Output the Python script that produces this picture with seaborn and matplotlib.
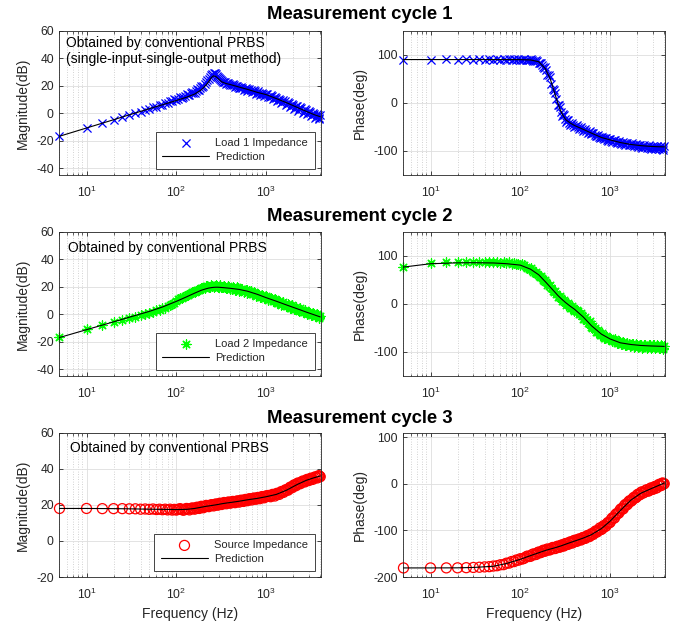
import matplotlib
matplotlib.use("Agg")
import matplotlib.pyplot as plt
from matplotlib.ticker import FixedLocator, LogLocator, NullFormatter
import seaborn as sns

# ---------------------------------------------------------------- data
# measured frequency points (Hz)
freq_meas = [5, 10, 15, 20, 25, 30, 35, 40, 45, 50, 55, 60, 65, 70, 75, 80, 85, 90, 95, 100,
             110, 120, 130, 140, 150, 160, 170, 180, 190, 200,
             215, 230, 245, 260, 275, 290, 305, 320, 340, 360, 380, 400,
             425, 450, 475, 500, 530, 560, 590, 620, 650, 690, 730, 770, 810, 850, 900, 950, 1000,
             1060, 1120, 1180, 1250, 1320, 1400, 1480, 1560, 1650, 1750, 1850, 1950, 2050,
             2150, 2250, 2400, 2550, 2700, 2850, 3000, 3150, 3300, 3500, 3700, 3850, 4000]
# intermediate measured frequency points above 100 Hz (Hz)
freq_meas_mid = [105, 115, 125, 135, 145, 155, 165, 175, 185, 195,
                 207, 222, 237, 252, 267, 282, 297, 312, 330, 350, 370, 390,
                 412, 437, 462, 487, 515, 545, 575, 605, 635, 670, 710, 750, 790, 830, 875, 925, 975,
                 1030, 1090, 1150, 1215, 1285, 1360, 1440, 1520, 1605, 1700, 1800, 1900, 2000, 2100,
                 2200, 2325, 2475, 2625, 2775, 2925, 3075, 3225, 3400, 3600, 3775, 3925]

# model frequency points (Hz)
freq_pred = [5, 10, 20, 30, 50, 70, 100, 130, 160, 190, 215, 230, 245, 260, 275, 290,
             320, 360, 400, 500, 620, 800, 1000, 1300, 1700, 2200, 2800, 3400, 4000]

# cycle 1: load 1 impedance
load1_mag_meas = [-16.6, -10.6, -7.0, -5.0, -2.6, -1.3, 0.4, 1.1, 2.6, 3.0, 4.5, 4.6, 6.1, 6.2, 7.5, 7.6, 8.8, 8.7, 10.0, 9.9,
                  11.4, 11.8, 13.6, 13.3, 15.6, 14.8, 17.6, 16.9, 19.6, 20.1,
                  22.9, 24.6, 27.9, 29.3, 28.6, 26.0, 24.9, 23.2, 22.9, 21.4, 22.0, 20.2,
                  21.0, 19.2, 20.1, 18.3, 19.3, 17.2, 18.4, 16.4, 17.6, 15.4, 16.6, 14.3, 15.8, 13.4, 14.9, 12.7, 14.3,
                  11.5, 13.1, 10.2, 11.9, 8.9, 10.6, 7.4, 9.4, 6.0, 8.2, 4.6, 6.8, 3.2, 5.5, 1.9, 4.2, 0.4, 2.8,
                  -0.8, 1.5, -1.9, 0.3, -3.3, -0.7, -4.2, -1.6]
load1_mag_meas_mid = [10.6, 11.0, 12.6, 12.9, 14.5, 15.0, 16.3, 17.2, 18.5, 19.2,
                      21.4, 23.8, 26.2, 28.6, 29.0, 27.2, 25.3, 24.2, 22.8, 22.5, 21.6, 21.3,
                      20.4, 20.3, 19.4, 19.3, 18.5, 18.6, 17.5, 17.7, 16.8, 16.9, 15.8, 15.8, 14.9, 15.0, 14.0, 14.2, 13.3,
                      13.6, 12.0, 12.5, 10.8, 11.2, 9.4, 9.9, 8.1, 8.8, 6.8, 7.4, 5.3, 6.1, 4.0, 5.0, 2.7, 3.6, 1.1, 2.2,
                      -0.2, 0.9, -1.4, -0.3, -2.6, -1.3, -3.5]
load1_mag_pred = [-16.8, -10.8, -4.8, -1.2, 3.2, 6.1, 9.2, 11.6, 13.9, 17.0, 20.6, 23.0, 25.8, 27.2, 26.7, 25.3,
                  22.8, 21.5, 20.8, 19.0, 17.3, 15.1, 13.5, 10.6, 7.5, 4.3, 1.3, -1.0, -2.6]
load1_phase_meas = [89.7, 89.5, 90.2, 89.6, 90.3, 89.4, 90.4, 89.5, 90.6, 89.3, 90.7, 89.2, 90.8, 89.1, 90.9, 89.0, 91.0, 88.9, 91.1, 88.7,
                    91.0, 88.4, 90.6, 86.5, 89.0, 83.0, 83.5, 73.5, 74.5, 58.5,
                    54.0, 28.0, 20.0, -4.0, -8.0, -27.0, -25.5, -39.0, -36.5, -45.5, -42.5, -50.0,
                    -47.0, -54.0, -51.0, -58.0, -55.0, -62.0, -59.0, -65.5, -63.0, -69.5, -67.0, -73.5, -70.5, -76.0, -73.0, -78.5, -75.0,
                    -80.5, -77.5, -83.0, -79.5, -85.0, -81.5, -87.0, -83.5, -88.5, -84.5, -90.5, -86.0, -92.0,
                    -87.0, -93.5, -88.0, -94.5, -88.5, -95.5, -89.0, -96.0, -89.0, -96.5, -89.5, -97.0, -89.5]
load1_phase_meas_mid = [89.6, 89.8, 89.0, 89.4, 86.8, 87.2, 82.0, 79.5, 72.5, 68.5,
                        58.0, 40.0, 26.0, 7.0, -3.5, -18.5, -24.0, -33.5, -36.0, -41.5, -43.0, -46.8,
                        -47.5, -50.5, -51.5, -54.5, -55.5, -59.0, -60.0, -63.0, -63.5, -67.0, -68.0, -71.0, -71.5, -73.8, -74.0, -76.3, -76.0,
                        -78.5, -78.2, -80.8, -80.5, -83.0, -82.8, -85.2, -84.5, -86.8, -86.0, -88.5, -87.3, -90.0, -88.5,
                        -91.0, -90.0, -92.5, -91.0, -93.5, -91.5, -94.0, -92.0, -94.5, -92.5, -95.0, -93.0]
load1_phase_pred = [90, 90, 90, 90, 90, 90, 89.8, 89.2, 85.5, 71, 50, 33, 16, 1, -12, -22,
                    -35, -42, -47, -55, -63, -72, -77, -82.5, -86.5, -89, -90.5, -91.2, -91.5]

# cycle 2: load 2 impedance
load2_mag_meas = [-16.8, -11.0, -7.6, -5.7, -4.4, -2.9, -2.0, -0.6, -0.1, 1.0, 1.4, 2.7, 2.9, 4.2, 4.5, 5.8, 6.3, 7.7, 8.4, 9.8,
                  11.8, 12.4, 14.0, 14.4, 16.0, 16.3, 17.7, 17.9, 19.1, 18.9,
                  20.3, 19.8, 20.9, 20.1, 21.0, 20.0, 20.9, 19.5, 20.6, 18.9, 20.2, 18.3,
                  19.8, 17.8, 19.4, 17.2, 18.6, 16.4, 17.9, 15.6, 17.0, 14.6, 15.9, 13.5, 14.9, 12.6, 14.0, 11.6, 12.9,
                  10.6, 12.0, 9.6, 11.0, 8.3, 9.6, 7.0, 8.5, 5.9, 7.3, 4.8, 6.3, 3.6, 5.2, 2.7, 4.2, 1.6, 3.1,
                  0.4, 1.9, -0.5, 1.0, -1.6, 0.0, -2.7, -1.0]
load2_mag_meas_mid = [10.9, 11.8, 13.4, 13.9, 15.4, 15.8, 17.0, 17.4, 18.4, 18.8,
                      19.3, 20.2, 20.0, 20.6, 20.3, 20.5, 20.1, 20.0, 19.6, 19.5, 19.0, 19.4,
                      18.3, 19.1, 17.7, 18.7, 17.3, 18.1, 16.7, 17.3, 15.9, 16.5, 14.8, 15.3, 13.6, 14.1, 12.6, 13.0, 11.6,
                      12.2, 10.7, 11.2, 9.6, 10.0, 8.4, 8.7, 7.1, 7.5, 5.9, 6.3, 4.7, 5.1, 3.6, 4.1, 2.6, 3.0, 1.4, 1.9,
                      0.5, 1.0, -0.4, 0.1, -1.5, -0.9, -2.3]
load2_mag_pred = [-17.0, -11.3, -5.6, -2.2, 2.0, 5.2, 9.3, 12.6, 15.3, 17.4, 18.5, 19.0, 19.3, 19.5, 19.6, 19.6,
                  19.4, 19.1, 18.8, 18.0, 16.7, 14.4, 12.0, 9.4, 6.6, 4.0, 1.5, -0.4, -2.0]
load2_phase_meas = [76.0, 84.0, 86.5, 86.0, 87.2, 86.4, 87.5, 86.5, 87.6, 86.0, 87.4, 85.5, 87.0, 84.8, 86.3, 83.8, 85.5, 82.5, 83.0, 80.0,
                    81.0, 74.0, 75.0, 65.5, 67.0, 57.5, 58.5, 49.0, 49.5, 39.0,
                    38.5, 26.0, 26.5, 14.5, 16.5, 5.5, 9.0, -1.5, 2.0, -8.5, -5.0, -15.0,
                    -12.0, -22.0, -19.0, -30.5, -28.0, -40.0, -36.5, -49.0, -46.0, -58.0, -54.5, -65.0, -61.5, -70.0, -66.5, -74.0, -70.5,
                    -78.0, -73.5, -81.5, -76.5, -84.0, -79.0, -86.0, -81.0, -87.5, -82.5, -89.0, -84.0, -90.0,
                    -85.0, -91.0, -85.5, -91.5, -86.0, -92.0, -86.0, -92.5, -86.5, -92.5, -86.5, -93.0, -87.0]
load2_phase_meas_mid = [82.0, 77.5, 71.5, 70.5, 64.0, 62.5, 56.0, 53.5, 46.5, 44.5,
                        36.5, 32.5, 24.5, 21.5, 13.8, 12.0, 6.0, 4.8, -0.8, -2.5, -8.0, -9.0,
                        -14.5, -15.0, -21.5, -23.5, -31.0, -33.0, -40.5, -42.0, -49.5, -50.5, -58.5, -58.5, -65.0, -64.5, -70.0, -69.3, -74.0,
                        -73.3, -78.0, -77.3, -81.3, -80.0, -83.3, -81.8, -85.0, -83.0, -86.3, -84.0, -87.5, -84.8, -88.5,
                        -85.3, -89.3, -85.8, -89.8, -86.3, -90.3, -86.5, -90.5, -86.8, -90.8, -87.0, -91.0]
load2_phase_pred = [76.5, 83.4, 85.2, 85.5, 85.0, 83.5, 80.5, 72.0, 60.5, 46, 35, 29, 23.5, 18, 13.5, 9.5,
                    2.5, -5, -11, -27, -45.5, -63, -73, -81, -84.5, -86.5, -87.5, -88, -88.5]

# cycle 3: source impedance
source_mag_meas = [18.0, 18.0, 17.9, 17.9, 17.9, 17.8, 17.8, 17.6, 17.7, 17.5, 17.7, 17.4, 17.6, 17.3, 17.6, 17.2, 17.6, 17.1, 17.5, 17.1,
                   17.9, 17.0, 18.0, 17.2, 18.3, 17.6, 18.7, 18.0, 19.2, 18.4,
                   19.7, 19.0, 20.1, 19.4, 20.5, 19.8, 20.9, 20.2, 21.3, 20.6, 21.6, 20.9,
                   21.9, 21.2, 22.2, 21.5, 22.6, 21.9, 23.0, 22.3, 23.4, 22.7, 23.8, 23.1, 24.1, 23.4, 24.6, 23.9, 25.0,
                   25.2, 24.5, 25.8, 24.9, 26.4, 25.8, 27.4, 26.9, 28.4, 28.1, 29.8, 29.5, 31.1,
                   30.6, 32.1, 31.7, 33.2, 32.7, 34.1, 33.5, 34.8, 34.1, 35.5, 34.9, 36.2, 35.6]
source_mag_meas_mid = [17.5, 17.4, 17.6, 17.7, 17.9, 18.0, 18.3, 18.5, 18.7, 18.9,
                       19.1, 19.4, 19.6, 19.8, 20.0, 20.2, 20.4, 20.6, 20.8, 21.0, 21.2, 21.3,
                       21.5, 21.6, 21.8, 22.0, 22.2, 22.4, 22.6, 22.8, 23.0, 23.2, 23.4, 23.5, 23.7, 23.9, 24.1, 24.3, 24.5,
                       24.7, 25.0, 25.3, 25.5, 25.9, 26.2, 26.7, 27.2, 27.8, 28.3, 29.0, 29.7, 30.4, 30.9,
                       31.4, 32.0, 32.5, 33.0, 33.5, 33.9, 34.2, 34.5, 34.9, 35.3, 35.6, 35.9]
source_mag_pred = [18.0, 18.0, 17.9, 17.8, 17.6, 17.5, 17.4, 17.5, 18.0, 18.7, 19.2, 19.4, 19.6, 19.8, 20.0, 20.2,
                   20.6, 21.0, 21.3, 22.0, 22.8, 23.6, 24.5, 25.8, 28.2, 31.2, 33.6, 35.0, 36.0]
source_phase_meas = [-180.5, -180.5, -180.4, -180.3, -180.0, -179.5, -179.0, -178.3, -177.8, -176.5, -175.8, -173.7, -173.5, -170.3, -170.2, -166.7, -167.0, -163.5, -164.0, -160.7,
                     -160.0, -155.0, -155.5, -150.3, -151.5, -146.3, -147.3, -142.5, -144.0, -139.8,
                     -141.5, -136.5, -138.8, -133.8, -136.0, -131.0, -133.5, -128.0, -130.0, -124.5, -127.0, -121.2,
                     -123.5, -118.3, -120.5, -115.0, -117.0, -110.8, -113.0, -106.8, -108.0, -101.0, -101.5, -94.5, -97.0, -89.5, -90.5, -82.5, -82.5,
                     -72.8, -73.0, -63.8, -62.5, -53.5, -53.5, -44.0, -44.0, -36.0, -35.5, -28.5, -29.0, -22.0,
                     -23.0, -17.0, -18.0, -12.5, -15.0, -8.5, -11.5, -5.5, -8.5, -1.0, -3.5, 2.0, 0.5]
source_phase_meas_mid = [-161.5, -157.0, -156.0, -152.0, -152.0, -148.0, -148.0, -144.5, -144.8, -141.5,
                         -142.0, -138.3, -138.8, -135.3, -135.8, -132.3, -132.8, -129.3, -129.6, -125.9, -126.3, -122.8,
                         -123.2, -119.5, -119.8, -116.3, -116.6, -112.8, -113.0, -109.0, -109.0, -104.3, -103.7, -98.5, -98.0, -92.2, -91.8, -85.0, -83.8,
                         -76.0, -74.0, -66.0, -64.0, -56.5, -54.5, -46.8, -45.5, -38.5, -37.5, -30.8, -30.3, -23.8, -24.0,
                         -19.0, -19.8, -14.5, -15.5, -10.5, -11.7, -7.3, -8.8, -3.5, -4.0, 1.0, -0.5]
source_phase_pred = [-180.5, -180.5, -180.3, -179.5, -177, -171, -162, -154, -148, -143, -140, -138.5, -137, -135.5, -134, -132.5,
                     -129.5, -126, -123, -116.5, -109, -96, -80, -57, -35, -20, -11, -4, 2]

cycle_titles = ["Measurement cycle 1", "Measurement cycle 2", "Measurement cycle 3"]
notes = ["Obtained by conventional PRBS\n(single-input-single-output method)",
         "Obtained by conventional PRBS",
         "Obtained by conventional PRBS"]
meas_labels = ["Load 1 Impedance", "Load 2 Impedance", "Source Impedance"]
mag_ticks = [[-40, -20, 0, 20, 40, 60], [-40, -20, 0, 20, 40, 60], [-20, 0, 20, 40, 60]]
mag_limits = [(-45, 60), (-45, 60), (-20, 60)]
phase_ticks = [[-100, 0, 100], [-100, 0, 100], [-200, -100, 0, 100]]
phase_limits = [(-150, 150), (-150, 150), (-200, 110)]
x_ticks = [10, 100, 1000]

mag_meas = [load1_mag_meas + load1_mag_meas_mid,
            load2_mag_meas + load2_mag_meas_mid,
            source_mag_meas + source_mag_meas_mid]
phase_meas = [load1_phase_meas + load1_phase_meas_mid,
              load2_phase_meas + load2_phase_meas_mid,
              source_phase_meas + source_phase_meas_mid]
mag_pred = [load1_mag_pred, load2_mag_pred, source_mag_pred]
phase_pred = [load1_phase_pred, load2_phase_pred, source_phase_pred]
freq_all = freq_meas + freq_meas_mid

# ---------------------------------------------------------------- style
sns.set_theme(style="ticks")
INK = "#262626"
plt.rcParams.update({
    "font.family": ["Liberation Sans", "DejaVu Sans"],
    "axes.unicode_minus": False,
    "axes.edgecolor": INK,
    "axes.linewidth": 0.6,
    "xtick.direction": "in",
    "ytick.direction": "in",
    "xtick.top": True,
    "ytick.right": True,
    "xtick.color": INK,
    "ytick.color": INK,
    "text.color": INK,
    "axes.labelcolor": INK,
})

marker_styles = [
    dict(marker="x", s=34, color="#0000ff", linewidth=0.9),
    dict(marker=(8, 2, 0), s=44, color="#00ff00", linewidth=0.9),
    dict(marker="o", s=52, color="#ff0000", facecolor="none", edgecolor="#ff0000", linewidth=0.9),
]

W, H = 688, 629
fig = plt.figure(figsize=(W / 100, H / 100), dpi=100)

col_left = [58.7, 402.7]
row_top = [30.7, 231.7, 432.7]
ax_w, ax_h = 262.0, 144.3
title_baseline = [19.0, 220.7, 423.3]
# offset (px) of the note's last baseline from the axes' top-left corner
note_offsets = [(7, 32.6), (9, 20), (11, 19.6)]


def style_axes(ax, yticks, ylim):
    ax.set_xscale("log")
    ax.set_xlim(4.9, 4050)
    ax.set_ylim(*ylim)
    ax.xaxis.set_major_locator(FixedLocator(x_ticks))
    ax.xaxis.set_minor_locator(LogLocator(base=10, subs=range(2, 10), numticks=20))
    ax.xaxis.set_minor_formatter(NullFormatter())
    ax.set_yticks(yticks)
    ax.set_axisbelow(True)
    ax.grid(which="major", color="#dedede", linewidth=0.6, linestyle="-")
    ax.grid(which="minor", axis="x", color="#c4c4c4", linewidth=0.6, linestyle=(0, (1, 2)))
    ax.tick_params(which="major", length=3, width=0.6, labelsize=8.7)
    ax.tick_params(which="minor", length=1.8, width=0.5)
    ax.tick_params(axis="x", which="major", pad=7)
    ax.tick_params(axis="y", which="major", pad=3.5)


def draw(ax, ym, yp, style, label=None):
    kw = dict(style)
    sns.scatterplot(x=freq_all, y=ym, ax=ax, clip_on=False, zorder=2, label=label, **kw)
    sns.lineplot(x=freq_pred, y=yp, ax=ax, color="black", linewidth=0.8, zorder=3,
                 label="Prediction" if label else None)
    if ax.get_legend() is not None:
        ax.get_legend().remove()


for r in range(3):
    y0 = 1 - (row_top[r] + ax_h) / H
    ax_m = fig.add_axes([col_left[0] / W, y0, ax_w / W, ax_h / H])
    ax_p = fig.add_axes([col_left[1] / W, y0, ax_w / W, ax_h / H])

    style_axes(ax_m, mag_ticks[r], mag_limits[r])
    style_axes(ax_p, phase_ticks[r], phase_limits[r])

    draw(ax_m, mag_meas[r], mag_pred[r], marker_styles[r], label=meas_labels[r])
    draw(ax_p, phase_meas[r], phase_pred[r], marker_styles[r])

    ax_m.set_ylabel("Magnitude(dB)", fontsize=10)
    ax_p.set_ylabel("Phase(deg)", fontsize=10)
    ax_m.yaxis.set_label_coords(-0.111, 0.5)
    ax_p.yaxis.set_label_coords(-0.136, 0.5)
    if r == 2:
        ax_m.set_xlabel("Frequency (Hz)", fontsize=10, labelpad=3.5)
        ax_p.set_xlabel("Frequency (Hz)", fontsize=10, labelpad=3.5)
    else:
        ax_m.set_xlabel("")
        ax_p.set_xlabel("")

    leg = ax_m.legend(loc="lower right", fontsize=8, frameon=True, fancybox=False,
                      edgecolor=INK, framealpha=1, handlelength=4.2, handletextpad=0.55,
                      borderpad=0.6, labelspacing=0.35, borderaxespad=0.55, scatterpoints=1)
    leg.get_frame().set_linewidth(0.6)

    dx, dy = note_offsets[r]
    ax_m.annotate(notes[r], xy=(0, 1), xycoords="axes fraction", xytext=(dx, -dy),
                  textcoords="offset pixels", ha="left", va="baseline", fontsize=10,
                  linespacing=1.2, color="black")

    fig.text(360 / W, 1 - title_baseline[r] / H, cycle_titles[r], ha="center", va="baseline",
             fontsize=13.3, fontweight="bold", color="black")

fig.savefig("out.png", dpi=100)
